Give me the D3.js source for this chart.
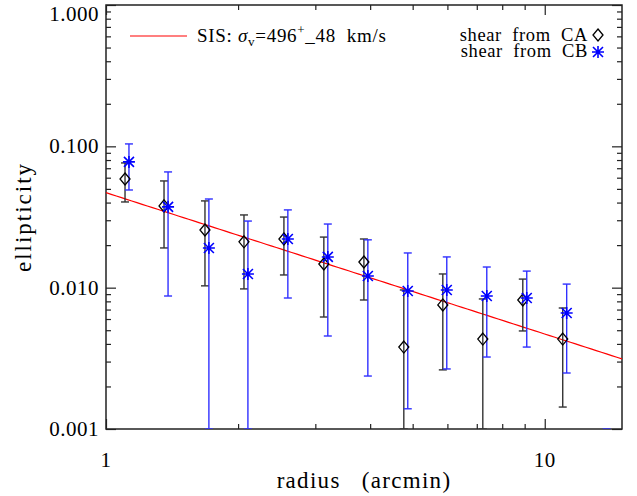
<!DOCTYPE html>
<html>
<head>
<meta charset="utf-8">
<script src="https://cdn.jsdelivr.net/npm/d3@7"></script>
<style>
  body { margin: 0; background: #fff; }
  text { font-family: "Liberation Serif", "Times New Roman", serif; fill: #000; }
</style>
</head>
<body>
<div id="chart"></div>
<script>
// radius bins (arcmin), CB points are drawn slightly shifted right
var radiusCA = [1.105, 1.356, 1.681, 2.063, 2.544, 3.137, 3.871, 4.773, 5.857, 7.225, 8.912, 10.99];
var radiusCB = [1.128, 1.385, 1.716, 2.106, 2.597, 3.203, 3.952, 4.873, 5.980, 7.377, 9.099, 11.22, 13.84];

// shear from CA: value, upper and lower end of error bar (0 = below the plot)
var ellCA   = [0.0587, 0.0379, 0.0256, 0.0211, 0.0221, 0.0147, 0.0152, 0.0038, 0.00755, 0.00433, 0.00818, 0.00433];
var ellCAhi = [0.0763, 0.0569, 0.0411, 0.0327, 0.0316, 0.0228, 0.0221, 0.00963, 0.0125, 0.00832, 0.0115, 0.00718];
var ellCAlo = [0.0404, 0.0191, 0.0103, 0.0098, 0.0123, 0.0062, 0.00818, 0, 0.00262, 0, 0.00494, 0.00143];

// shear from CB
var ellCB   = [0.0776, 0.0373, 0.0191, 0.0125, 0.0221, 0.0165, 0.0121, 0.00948, 0.00963, 0.00873, 0.00845, 0.00662, 0.0004];
var ellCBhi = [0.1040, 0.0659, 0.0424, 0.0296, 0.0355, 0.0282, 0.0218, 0.0176, 0.0165, 0.0140, 0.0131, 0.0106, 0.0007];
var ellCBlo = [0.0491, 0.00873, 0, 0, 0.00845, 0.00455, 0.00237, 0.00139, 0.00266, 0.00323, 0.0038, 0.00249, 0];

// SIS model: ellipticity = A / radius
var sisAmp = 0.047;
var sisLabel = "SIS:";

var xMajor = [1, 10];
var xMinor = [2, 3, 4, 5, 6, 7, 8, 9];
var yMajor = [0.001, 0.01, 0.1, 1];
var yMinor = [];
[0.001, 0.01, 0.1].forEach(function (d) {
  for (var k = 2; k <= 9; k++) yMinor.push(+(d * k).toPrecision(2));
});

var width = 637, height = 496;
var pLeft = 106, pRight = 622, pTop = 5, pBottom = 429;

var x = d3.scaleLog().domain([1, 15]).range([pLeft, pRight]);
var y = d3.scaleLog().domain([0.001, 1]).range([pBottom, pTop]);

var svg = d3.select("#chart").append("svg")
  .attr("width", width)
  .attr("height", height);

svg.append("defs").append("clipPath").attr("id", "plotclip")
  .append("rect")
  .attr("x", pLeft).attr("y", pTop)
  .attr("width", pRight - pLeft).attr("height", pBottom - pTop);

// axes: ticks pointing inward on all four sides
var axisColor = "#222";
function drawAxis(gen, tx, ty) {
  var g = svg.append("g").attr("transform", "translate(" + tx + "," + ty + ")").call(gen);
  g.select(".domain").remove();
  g.selectAll("line").attr("stroke", axisColor).attr("stroke-width", 1.2);
  g.selectAll("text").remove();
  return g;
}
drawAxis(d3.axisBottom(x).tickValues(xMajor).tickSize(-10), 0, pBottom);
drawAxis(d3.axisBottom(x).tickValues(xMinor).tickSize(-5), 0, pBottom);
drawAxis(d3.axisTop(x).tickValues(xMajor).tickSize(-10), 0, pTop);
drawAxis(d3.axisTop(x).tickValues(xMinor).tickSize(-5), 0, pTop);
drawAxis(d3.axisLeft(y).tickValues(yMajor).tickSize(-10), pLeft, 0);
drawAxis(d3.axisLeft(y).tickValues(yMinor).tickSize(-5), pLeft, 0);
drawAxis(d3.axisRight(y).tickValues(yMajor).tickSize(-10), pRight, 0);
drawAxis(d3.axisRight(y).tickValues(yMinor).tickSize(-5), pRight, 0);

svg.append("rect")
  .attr("x", pLeft).attr("y", pTop)
  .attr("width", pRight - pLeft).attr("height", pBottom - pTop)
  .attr("fill", "none")
  .attr("stroke", axisColor)
  .attr("stroke-width", 1.5);

// tick labels
svg.selectAll(".ylab").data(yMajor).enter().append("text")
  .attr("class", "ylab")
  .attr("x", pLeft - 7)
  .attr("y", d => Math.max(y(d), 14) + 7)
  .attr("text-anchor", "end")
  .attr("font-size", "21px")
  .attr("letter-spacing", "0.5px")
  .text(d => d3.format(".3f")(d));

svg.selectAll(".xlab").data(xMajor).enter().append("text")
  .attr("class", "xlab")
  .attr("x", d => x(d))
  .attr("y", 467)
  .attr("text-anchor", "middle")
  .attr("font-size", "21px")
  .attr("letter-spacing", "0.5px")
  .text(d => d);

// axis titles
svg.append("text")
  .attr("x", (pLeft + pRight) / 2)
  .attr("y", 488)
  .attr("text-anchor", "middle")
  .attr("font-size", "23px")
  .attr("letter-spacing", "1.3px")
  .attr("xml:space", "preserve")
  .text("radius   (arcmin)");

svg.append("text")
  .attr("transform", "translate(31," + (pTop + pBottom) / 2 + ") rotate(-90)")
  .attr("text-anchor", "middle")
  .attr("font-size", "23px")
  .attr("letter-spacing", "2px")
  .text("ellipticity");

var plot = svg.append("g").attr("clip-path", "url(#plotclip)");

// SIS model line
var rGrid = d3.range(0, 101).map(i => Math.pow(15, i / 100));
plot.append("path")
  .datum(rGrid)
  .attr("fill", "none")
  .attr("stroke", "#ff0000")
  .attr("stroke-width", 1.2)
  .attr("d", d3.line().x(d => x(d)).y(d => y(sisAmp / d)));

// error bars; a lower end below the plot gets its cap on the bottom axis
function yLow(v) { return v > 0.001 ? y(v) : pBottom; }

function errorBars(rs, hi, lo, color) {
  var g = plot.append("g").attr("stroke", color).attr("stroke-width", 1.4);
  rs.forEach(function (r, i) {
    var cx = x(r), yh = y(hi[i]), yl = yLow(lo[i]);
    g.append("line").attr("x1", cx).attr("x2", cx).attr("y1", yh).attr("y2", yl);
    g.append("line").attr("x1", cx - 4).attr("x2", cx + 4).attr("y1", yh).attr("y2", yh);
    g.append("line").attr("x1", cx - 4).attr("x2", cx + 4).attr("y1", yl).attr("y2", yl);
  });
}
errorBars(radiusCA, ellCAhi, ellCAlo, "#333");
errorBars(radiusCB, ellCBhi, ellCBlo, "#3030ff");

function diamond(g, cx, cy) {
  g.append("path")
    .attr("d", "M" + cx + "," + (cy - 6) + "L" + (cx + 5) + "," + cy + "L" + cx + "," + (cy + 6) + "L" + (cx - 5) + "," + cy + "Z")
    .attr("fill", "none")
    .attr("stroke", "#000")
    .attr("stroke-width", 1.3);
}
function asterisk(g, cx, cy) {
  var s = 6, d = 5;
  var p = "M" + cx + "," + (cy - s) + "V" + (cy + s) +
          "M" + (cx - s) + "," + cy + "H" + (cx + s) +
          "M" + (cx - d) + "," + (cy - d) + "L" + (cx + d) + "," + (cy + d) +
          "M" + (cx - d) + "," + (cy + d) + "L" + (cx + d) + "," + (cy - d);
  g.append("path").attr("d", p).attr("fill", "none").attr("stroke", "#0000ff").attr("stroke-width", 1.6);
}

var markers = plot.append("g");
radiusCA.forEach((r, i) => diamond(markers, x(r), y(ellCA[i])));
radiusCB.forEach((r, i) => asterisk(markers, x(r), y(ellCB[i])));

// legend, left: model
svg.append("line")
  .attr("x1", 130).attr("x2", 187).attr("y1", 36).attr("y2", 36)
  .attr("stroke", "#ff0000").attr("stroke-width", 1.2);
var lt = svg.append("text")
  .attr("x", 197).attr("y", 42)
  .attr("font-size", "19px")
  .attr("letter-spacing", "0.7px")
  .attr("xml:space", "preserve");
lt.append("tspan").text(sisLabel + " ");
lt.append("tspan").attr("font-style", "italic").text("σ");
lt.append("tspan").attr("font-size", "13px").attr("dy", 4).text("v");
lt.append("tspan").attr("dy", -4).text("=496");
lt.append("tspan").attr("font-size", "13px").attr("dy", -8).text("+");
lt.append("tspan").attr("dy", 8).text("_48  km/s");

// legend, right: data sets
var leg = svg.append("g");
leg.append("text").attr("x", 588).attr("y", 41)
  .attr("text-anchor", "end").attr("font-size", "18.5px").attr("letter-spacing", "0.6px")
  .attr("xml:space", "preserve").text("shear  from  CA");
diamond(leg, 598, 35);
leg.append("text").attr("x", 588).attr("y", 57)
  .attr("text-anchor", "end").attr("font-size", "18.5px").attr("letter-spacing", "0.6px")
  .attr("xml:space", "preserve").text("shear  from  CB");
asterisk(leg, 598, 52);
</script>
</body>
</html>
